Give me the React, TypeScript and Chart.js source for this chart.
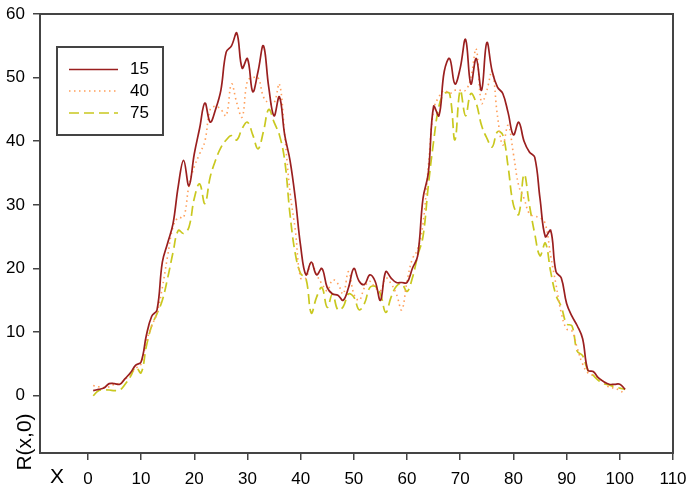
import React, { useEffect, useRef } from "react";
import { Chart, registerables } from "chart.js";

Chart.register(...registerables);

const seriesNames = ["15", "40", "75"];

// x positions 1..101
const xValues: number[] = [];
for (let i = 1; i <= 101; i++) xValues.push(i);

const r15 = [
  0.8, 1.0, 1.2, 1.9, 1.9, 1.8, 2.7, 3.6, 4.8, 5.3,
  9.5, 12.5, 13.5, 21, 24, 27, 33, 37, 33, 38,
  42, 46, 43, 45, 48, 54, 55, 57, 51.5, 53,
  47.8, 51, 55, 48.5, 44, 47, 41, 37, 31, 23.5,
  19, 21, 19, 20, 17, 16, 15.8, 15, 17, 20,
  18, 17.5, 19, 18, 15, 19.5, 18.5, 17.8, 17.8, 17.8,
  20, 22, 31, 35, 45.5, 44, 51, 53, 49, 51.5,
  56, 49, 53, 48, 55.5, 51, 48.5, 47.5, 44.5, 41,
  43, 40, 38.3, 37.5, 31, 25, 26, 19.5, 18.5, 14.5,
  12.5, 11, 9, 4, 3.8, 2.8, 2.2, 1.8, 1.8, 1.8,
  1.0,
];

const r40 = [
  1.6, 1.4, 1.3, 1.4, 1.8, 2.0, 2.6, 3.4, 4.3, 5.0,
  8.5, 11, 13, 17, 22, 26.5, 28, 28, 33, 36,
  38, 40, 45, 45.5, 45, 44, 49, 46, 43.8, 49.5,
  50, 50, 47, 46, 46, 49, 41, 32, 26, 18.5,
  18.5, 21, 19, 17.6, 16.5, 18.2, 17.6, 16, 19.5, 16,
  15, 17, 18, 17, 16.5, 18.5, 17.6, 16, 13.5, 18,
  21.5, 23, 27, 36, 45, 47, 48, 47.5, 48, 48,
  48, 50, 54.5, 46, 48, 51, 44, 39.4, 42.5, 38,
  33, 31, 28.6, 28.2, 28, 27, 22, 17.5, 13, 10.5,
  10.2, 7.5, 5, 3.6, 3.2, 2.8, 2.2, 1.3, 1.2, 0.8,
  0.3,
];

const r75 = [
  0.0, 0.8, 0.9, 0.9, 0.8, 0.9, 1.8, 3.0, 4.5, 3.6,
  7.8, 11, 12.9, 15, 18.5, 22.5, 26, 25.5, 26.5, 31,
  33.3, 30.2, 34.4, 37, 39, 40.2, 40.9, 40.2, 42, 43,
  41, 38.8, 41.5, 45, 43, 41, 37, 28.5, 22.3, 19.2,
  18.4, 13, 15.5, 17, 13.9, 16, 13.5, 14, 16, 15.5,
  13.5, 14.5, 17, 17.2, 16, 13.1, 15.5, 17.2, 17.6, 16.4,
  18.5, 22, 25, 33, 40, 45.5, 47.5, 47.5, 40.2, 48,
  44, 47.5, 46, 42.5, 40.5, 39.1, 41.5, 41, 36, 30,
  28.5, 34.8, 30, 25.5, 22, 24, 19.5, 15.8, 14, 11.3,
  11, 7, 6.3, 4, 3.2, 2.4, 1.9, 1.7, 1.4, 1.2,
  1.0,
];

const xTicks = [0, 10, 20, 30, 40, 50, 60, 70, 80, 90, 100, 110];
const yTicks = [0, 10, 20, 30, 40, 50, 60];

const xTitle = "X";
const yTitle = "R(x,0)";

const FONT = "'Liberation Sans', Arial, sans-serif";
const colors = ["#9a1f1f", "#ff9f5a", "#c9c81f"];
const dashes: number[][] = [[], [1.5, 3.5], [10, 5]];
const widths = [1.7, 1.6, 1.7];

const decorPlugin = {
  id: "decor",
  afterDraw(chart: any) {
    const ctx = chart.ctx as CanvasRenderingContext2D;
    const a = chart.chartArea;
    ctx.save();
    // frame
    ctx.strokeStyle = "#444";
    ctx.lineWidth = 2;
    ctx.setLineDash([]);
    ctx.strokeRect(a.left, a.top, a.right - a.left, a.bottom - a.top);

    // legend
    const lx = 57, ly = 47, lw = 106, lh = 88;
    ctx.strokeRect(lx, ly, lw, lh);
    const rowY = [69.5, 91, 113];
    ctx.font = `17px ${FONT}`;
    ctx.textBaseline = "middle";
    ctx.textAlign = "left";
    seriesNames.forEach((name, i) => {
      ctx.strokeStyle = colors[i];
      ctx.lineWidth = widths[i];
      ctx.setLineDash(dashes[i]);
      ctx.beginPath();
      ctx.moveTo(69, rowY[i]);
      ctx.lineTo(118, rowY[i]);
      ctx.stroke();
      ctx.fillStyle = "#000";
      ctx.fillText(name, 130, rowY[i]);
    });
    ctx.setLineDash([]);

    // axis titles
    ctx.fillStyle = "#000";
    ctx.font = `21px ${FONT}`;
    ctx.textAlign = "center";
    ctx.textBaseline = "middle";
    ctx.fillText(xTitle, 57, 477);
    ctx.save();
    ctx.translate(25, 442);
    ctx.rotate(-Math.PI / 2);
    ctx.fillText(yTitle, 0, 0);
    ctx.restore();
    ctx.restore();
  },
};

export default function App() {
  const ref = useRef<HTMLCanvasElement>(null);
  useEffect(() => {
    document.body.style.margin = "0";
    const canvas = ref.current!;
    const seriesList = [r15, r40, r75];
    const chart = new Chart(canvas, {
      type: "line",
      data: {
        datasets: seriesList.map((s, i) => ({
          label: seriesNames[i],
          data: xValues.map((x, j) => ({ x, y: s[j] })),
          borderColor: colors[i],
          borderWidth: widths[i],
          borderDash: dashes[i],
          pointRadius: 0,
          tension: 0.4,
          fill: false,
        })),
      },
      options: {
        animation: false,
        responsive: false,
        maintainAspectRatio: false,
        layout: { padding: { top: 14, right: 15, left: 0, bottom: 0 } },
        plugins: { legend: { display: false }, tooltip: { enabled: false } },
        scales: {
          x: {
            type: "linear",
            min: -9,
            max: 110,
            afterBuildTicks: (s: any) => {
              s.ticks = xTicks.map((v) => ({ value: v }));
            },
            afterFit: (s: any) => {
              s.height = 36;
              s.paddingLeft = 0;
              s.paddingRight = 0;
            },
            grid: { drawOnChartArea: false, drawTicks: true, tickLength: 7, color: "#444", lineWidth: 1.5 },
            border: { display: false },
            ticks: {
              font: { family: FONT, size: 17 },
              color: "#000",
              padding: 9,
              maxRotation: 0,
              autoSkip: false,
            },
          },
          y: {
            type: "linear",
            min: -9,
            max: 60,
            afterBuildTicks: (s: any) => {
              s.ticks = yTicks.map((v) => ({ value: v }));
            },
            afterFit: (s: any) => {
              s.width = 40;
              s.paddingTop = 0;
              s.paddingBottom = 0;
            },
            grid: { drawOnChartArea: false, drawTicks: true, tickLength: 7, color: "#444", lineWidth: 1.5 },
            border: { display: false },
            ticks: {
              font: { family: FONT, size: 17 },
              color: "#000",
              padding: 8,
              autoSkip: false,
            },
          },
        },
      },
      plugins: [decorPlugin],
    } as any);
    return () => chart.destroy();
  }, []);
  return <canvas ref={ref} width={688} height={489} style={{ display: "block" }} />;
}
